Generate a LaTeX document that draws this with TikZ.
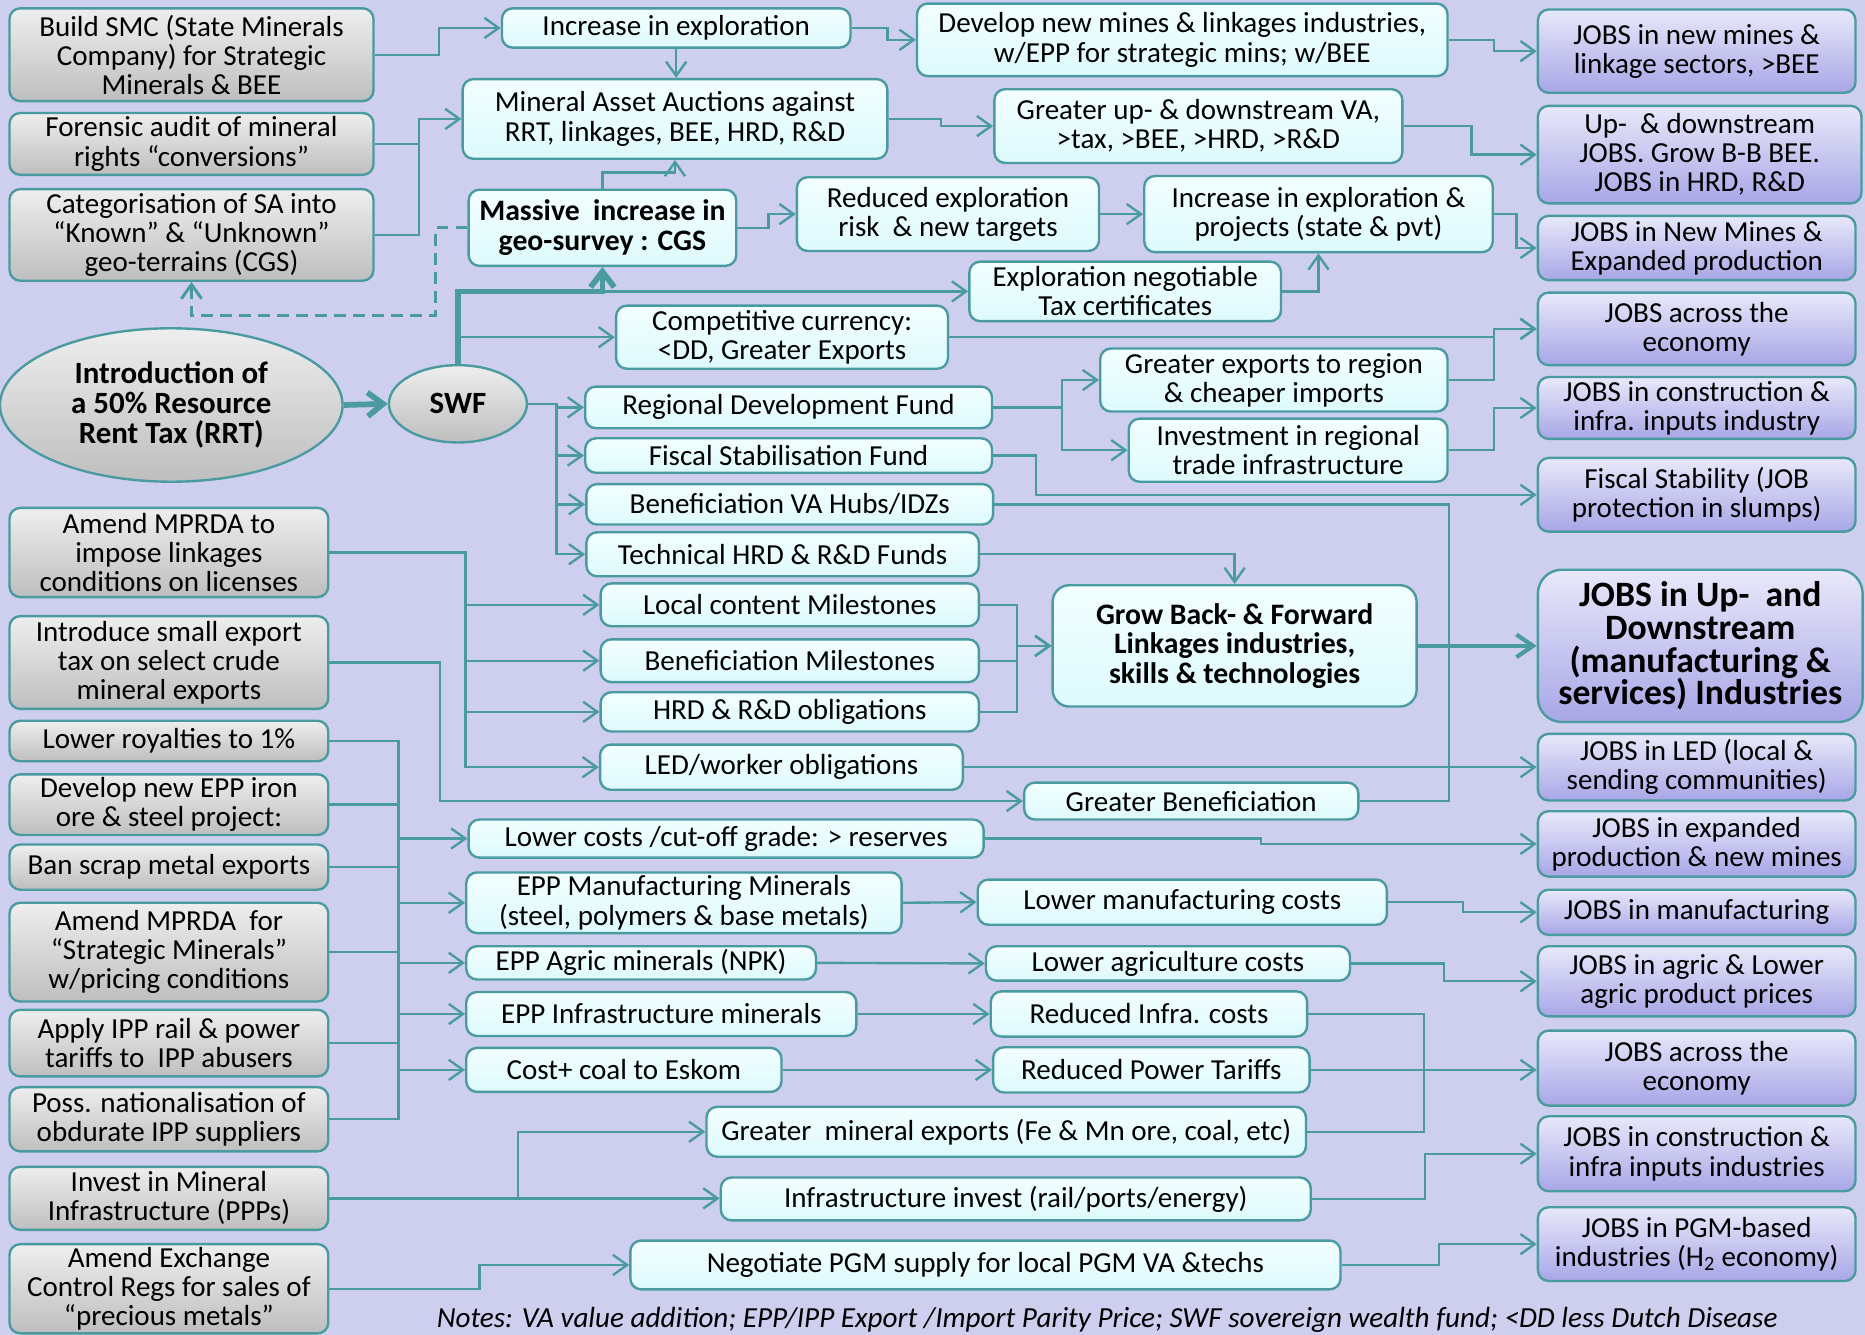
\documentclass[tikz,border=0pt]{standalone}
\usepackage{fontspec}
\setmainfont{Carlito}
\usepackage{tikz}
\usetikzlibrary{arrows.meta, shapes.geometric}
\definecolor{bglilac}{RGB}{206,206,238}
\definecolor{linkteal}{RGB}{74,155,160}
\definecolor{greytop}{RGB}{238,238,238}
\definecolor{greybot}{RGB}{190,190,190}
\definecolor{cyantop}{RGB}{242,254,255}
\definecolor{cyanbot}{RGB}{222,250,252}
\definecolor{jobtop}{RGB}{232,232,250}
\definecolor{jobbot}{RGB}{168,166,230}

\tikzset{
  plainbox/.style={draw=linkteal, line width=2pt, rounded corners=9pt, align=center,
    inner sep=0pt, font=\fontsize{24.4}{24.5}\selectfont},
  boxsize/.style 2 args={minimum width=#1pt, minimum height=#2pt},
  cause/.style={plainbox, top color=greytop, bottom color=greybot},
  effect/.style={plainbox, top color=cyantop, bottom color=cyanbot},
  jobs/.style={plainbox, top color=jobtop, bottom color=jobbot},
  boldtext/.style={font=\bfseries\fontsize{25}{25}\selectfont},
  oval/.style={ellipse, draw=linkteal, line width=2pt, top color=greytop, bottom color=greybot,
    align=center, inner sep=0pt, font=\bfseries\fontsize{26}{25}\selectfont},
  wire/.style={draw=linkteal, line width=2pt},
  link/.style={wire, ->},
  dashlink/.style={link, line width=2.5pt, dash pattern=on 10pt off 6pt},
  heavy/.style={draw=linkteal, line width=4.8pt, -{Straight Barb[length=13pt,width=20pt]}},
  mediumlink/.style={draw=linkteal, line width=3.5pt, -{Straight Barb[length=14pt,width=19pt]}},
}

\begin{document}
\begin{tikzpicture}[x=1pt, y=-1pt, >={Straight Barb[length=12pt,width=17pt]}]
  \fill[bglilac] (0,0) rectangle (1568,1122);
  \useasboundingbox (0,0) rectangle (1568,1122);

  % policy levers
  \node[cause, boxsize={306}{78}] (smc) at (161,46) {Build SMC (State Minerals\\Company) for Strategic\\Minerals \& BEE};
  \node[cause, boxsize={306}{52}] (audit) at (161,121) {Forensic audit of mineral\\rights “conversions”};
  \node[cause, boxsize={306}{77}] (categ) at (161,197.5) {Categorisation of SA into\\“Known” \& “Unknown”\\geo-terrains (CGS)};
  \node[oval, boxsize={288}{129}] (rrt) at (144,340.5) {Introduction of\\a 50\% Resource\\Rent Tax (RRT)};
  \node[oval, boxsize={116}{65}] (swf) at (385,339.5) {SWF};
  \node[cause, boxsize={268}{75}] (mprdaA) at (142,464.5) {Amend MPRDA to\\impose linkages\\conditions on licenses};
  \node[cause, boxsize={268}{78}] (exptax) at (142,557) {Introduce small export\\tax on select crude\\mineral exports};
  \node[cause, boxsize={268}{34}] (royal) at (142,623) {Lower royalties to 1\%};
  \node[cause, boxsize={268}{51}] (eppiron) at (142,676.5) {Develop new EPP iron\\ore \& steel project:};
  \node[cause, boxsize={268}{38}] (scrap) at (142,729) {Ban scrap metal exports};
  \node[cause, boxsize={268}{83}] (mprdaB) at (142,800.5) {Amend MPRDA\ \ for\\“Strategic Minerals”\\w/pricing conditions};
  \node[cause, boxsize={268}{56}] (ippuse) at (142,877) {Apply IPP rail \& power\\tariffs to\ \ IPP abusers};
  \node[cause, boxsize={268}{54}] (nation) at (142,941) {Poss. nationalisation of\\obdurate IPP suppliers};
  \node[cause, boxsize={268}{53}] (invmin) at (142,1007.5) {Invest in Mineral\\Infrastructure (PPPs)};
  \node[cause, boxsize={268}{75}] (exch) at (142,1083.5) {Amend Exchange\\Control Regs for sales of\\“precious metals”};

  % intermediate effects
  \node[effect, boxsize={293}{33}] (incexp) at (568.5,23.5) {Increase in exploration};
  \node[effect, boxsize={446}{61}] (newmine) at (994,33.5) {Develop new mines \& linkages industries,\\w/EPP for strategic mins; w/BEE};
  \node[effect, boxsize={357}{67}] (auction) at (567.5,100) {Mineral Asset Auctions against\\RRT, linkages, BEE, HRD, R\&D};
  \node[effect, boxsize={343}{62}] (updown) at (1007.5,106) {Greater up- \& downstream VA,\\>tax, >BEE, >HRD, >R\&D};
  \node[effect, boldtext, boxsize={225}{64}] (survey) at (506.5,191.5) {Massive\ \ increase in\\geo-survey : CGS};
  \node[effect, boxsize={254}{62}] (risk) at (797,180) {Reduced exploration\\risk\ \ \& new targets};
  \node[effect, boxsize={293}{64}] (incproj) at (1108.5,180) {Increase in exploration \&\\projects (state \& pvt)};
  \node[effect, boxsize={262}{50}] (taxcert) at (946,245) {Exploration negotiable\\Tax certificates};
  \node[effect, boxsize={279}{53}] (currency) at (657.5,283.5) {Competitive currency:\\<DD, Greater Exports};
  \node[effect, boxsize={292}{53}] (regexp) at (1071,319.5) {Greater exports to region\\\& cheaper imports};
  \node[effect, boxsize={268}{53}] (reginv) at (1083,378.5) {Investment in regional\\trade infrastructure};
  \node[effect, boxsize={342}{35}] (rdf) at (663,342.5) {Regional Development Fund};
  \node[effect, boxsize={342}{29}] (fsf) at (663,383) {Fiscal Stabilisation Fund};
  \node[effect, boxsize={342}{34}] (vahub) at (664,424) {Beneficiation VA Hubs/IDZs};
  \node[effect, boxsize={330}{37}] (hrdfund) at (658,466) {Technical HRD \& R\&D Funds};
  \node[effect, boxsize={318}{36}] (localc) at (664,508.5) {Local content Milestones};
  \node[effect, boxsize={318}{36}] (benmile) at (664,555.5) {Beneficiation Milestones};
  \node[effect, boxsize={318}{33}] (hrdobl) at (664,598.5) {HRD \& R\&D obligations};
  \node[effect, boxsize={305}{38}] (ledobl) at (657,645) {LED/worker obligations};
  \node[effect, boldtext, boxsize={306}{102}, rounded corners=14pt] (linkage) at (1038,543) {Grow Back- \& Forward\\Linkages industries,\\skills \& technologies};
  \node[effect, boxsize={281}{31}] (gbenef) at (1001.5,673.5) {Greater Beneficiation};
  \node[effect, boxsize={433}{32}] (lowcost) at (610.5,705) {Lower costs /cut-off grade: > reserves};
  \node[effect, boxsize={366}{51}] (eppman) at (575,759) {EPP Manufacturing Minerals\\(steel, polymers \& base metals)};
  \node[effect, boxsize={344}{38}] (lowman) at (994,758.5) {Lower manufacturing costs};
  \node[effect, boxsize={294}{28}] (eppagr) at (539,809.5) {EPP Agric minerals (NPK)};
  \node[effect, boxsize={306}{29}] (lowagr) at (982,810) {Lower agriculture costs};
  \node[effect, boxsize={328}{37}] (eppinf) at (556,852.5) {EPP Infrastructure minerals};
  \node[effect, boxsize={266}{38}] (redinf) at (966,852.5) {Reduced Infra. costs};
  \node[effect, boxsize={265}{37}] (coal) at (524.5,899.5) {Cost+ coal to Eskom};
  \node[effect, boxsize={266}{38}] (redpow) at (968,899.5) {Reduced Power Tariffs};
  \node[effect, boxsize={504}{42}] (minexp) at (846,951.5) {Greater\ \ mineral exports (Fe \& Mn ore, coal, etc)};
  \node[effect, boxsize={496}{36}] (infinv) at (854,1008) {Infrastructure invest (rail/ports/energy)};
  \node[effect, boxsize={597}{41}] (pgm) at (828.5,1063.5) {Negotiate PGM supply for local PGM VA \&techs};

  % jobs outcomes
  \node[jobs, boxsize={267}{70}] (jmines) at (1426.5,43) {JOBS in new mines \&\\linkage sectors, >BEE};
  \node[jobs, boxsize={272}{82}] (jupdown) at (1429,130) {Up-\ \ \& downstream\\JOBS. Grow B-B BEE.\\JOBS in HRD, R\&D};
  \node[jobs, boxsize={267}{54}] (jnewmine) at (1426.5,208.5) {JOBS in New Mines \&\\Expanded production};
  \node[jobs, boxsize={267}{61}] (jecon) at (1426.5,276.5) {JOBS across the\\economy};
  \node[jobs, boxsize={267}{52}] (jconstr) at (1426.5,343) {JOBS in construction \&\\infra. inputs industry};
  \node[jobs, boxsize={267}{62}] (jfiscal) at (1426.5,416) {Fiscal Stability (JOB\\protection in slumps)};
  \node[jobs, boxsize={273}{128}, rounded corners=20pt, font=\bfseries\fontsize{30}{27.5}\selectfont] (jlinkage) at (1429.5,543) {JOBS in Up-\ \ and\\Downstream\\(manufacturing \&\\services) Industries};
  \node[jobs, boxsize={267}{56}] (jled) at (1426.5,645) {JOBS in LED (local \&\\sending communities)};
  \node[jobs, boxsize={267}{55}] (jexpand) at (1426.5,709.5) {JOBS in expanded\\production \& new mines};
  \node[jobs, boxsize={267}{38}] (jmanuf) at (1426.5,767) {JOBS in manufacturing};
  \node[jobs, boxsize={267}{59}] (jagric) at (1426.5,825) {JOBS in agric \& Lower\\agric product prices};
  \node[jobs, boxsize={267}{63}] (jeconB) at (1426.5,898) {JOBS across the\\economy};
  \node[jobs, boxsize={267}{63}] (jconstrB) at (1426.5,970) {JOBS in construction \&\\infra inputs industries};
  \node[jobs, boxsize={267}{62}] (jpgm) at (1426.5,1046) {JOBS in PGM-based\\industries (H\textsubscript{2} economy)};

  \node[anchor=base west, inner sep=0pt, font=\itshape\fontsize{24.5}{25}\selectfont] (notes) at (367,1116)
    {Notes: VA value addition; EPP/IPP Export /Import Parity Price; SWF sovereign wealth fund; <DD less Dutch Disease};

  % exploration and auctions
  \draw[link] (smc.east) -- ++(54,0) |- (incexp.west);
  \draw[wire] (audit.east) -- ++(37.5,0);
  \draw[link] (categ.east) -- ++(37.5,0) |- (auction.west);
  \draw[link] (incexp.south) -- (incexp.south |- auction.north);
  \draw[link] (incexp.east) -- ++(30,0) |- (newmine.west);
  \draw[link] (newmine.east) -- ++(38,0) |- (jmines.west);
  \draw[link] (auction.east) -- ++(44,0) |- (updown.west);
  \draw[link] (updown.east) -- ++(57,0) |- (jupdown.west);
  \draw[link] (survey.north) -- ++(0,-13.5) -| (auction.south);
  \draw[link] (survey.east) -- ++(26,0) |- (risk.west);
  \draw[link] (risk.east) -- (incproj.west);
  \draw[link] (incproj.east) -- ++(19,0) |- (jnewmine.west);
  \draw[link] (taxcert.east) -| (incproj.south);
  \draw[dashlink] (survey.west) -- ++(-26.5,0) -- ++(0,74) -| (categ.south);

  % from the RRT through the SWF
  \draw[heavy] (rrt.east) -- (swf.west);
  \draw[heavy] (swf.north) -- (swf.north |- taxcert.west) -| (survey.south);
  \draw[link] (survey.south |- taxcert.west) -- (taxcert.west);
  \draw[link] (swf.north |- currency.west) -- (currency.west);
  \draw[link] (swf.east) -- ++(24,0) |- (rdf.west);
  \draw[link] (swf.east) ++(24,0) |- (fsf.west);
  \draw[link] (swf.east) ++(24,0) |- (vahub.west);
  \draw[link] (swf.east) ++(24,0) |- (hrdfund.west);
  \draw[link] (currency.east) -- ++(458,0) |- (jecon.west);
  \draw[link] (regexp.east) -- ++(38,0) |- (jecon.west);
  \draw[link] (rdf.east) -- ++(58,0) |- (regexp.west);
  \draw[link] (rdf.east) ++(58,0) |- (reginv.west);
  \draw[link] (reginv.east) -- ++(38,0) |- (jconstr.west);
  \draw[link] (fsf.east) -- ++(36,0) |- (jfiscal.west);
  \draw[wire] (vahub.east) -- (vahub.east -| reginv.east) |- (gbenef.east);
  \draw[link] (hrdfund.east) -| (linkage.north);

  % linkage conditions
  \draw[link] (mprdaA.east) -- ++(114.5,0) |- (localc.west);
  \draw[link] (mprdaA.east) ++(114.5,0) |- (benmile.west);
  \draw[link] (mprdaA.east) ++(114.5,0) |- (hrdobl.west);
  \draw[link] (mprdaA.east) ++(114.5,0) |- (ledobl.west);
  \draw[link] (localc.east) -- ++(31,0) |- (linkage.west);
  \draw[link] (benmile.east) -- ++(31,0) |- (linkage.west);
  \draw[link] (hrdobl.east) -- ++(31,0) |- (linkage.west);
  \draw[mediumlink] (linkage.east) -- (jlinkage.west);
  \draw[link] (ledobl.east) -- (jled.west);
  \draw[link] (exptax.east) -- ++(93,0) |- (gbenef.west);

  % parity prices
  \coordinate (pricebus) at ([xshift=58pt]royal.east);
  \draw[wire] (royal.east) -- (pricebus) -- (pricebus |- nation.east) -- (nation.east);
  \draw[wire] (eppiron.east) -- (eppiron.east -| pricebus);
  \draw[wire] (scrap.east) -- (scrap.east -| pricebus);
  \draw[wire] (mprdaB.east) -- (mprdaB.east -| pricebus);
  \draw[wire] (ippuse.east) -- (ippuse.east -| pricebus);
  \draw[link] (pricebus |- lowcost.west) -- (lowcost.west);
  \draw[link] (pricebus |- eppman.west) -- (eppman.west);
  \draw[link] (pricebus |- eppagr.west) -- (eppagr.west);
  \draw[link] (pricebus |- eppinf.west) -- (eppinf.west);
  \draw[link] (pricebus |- coal.west) -- (coal.west);
  \draw[link] (lowcost.east) -- ++(232,0) |- (jexpand.west);
  \draw[link] (eppman.east) -- (lowman.west);
  \draw[link] (lowman.east) -- ++(63,0) |- (jmanuf.west);
  \draw[link] (eppagr.east) -- (lowagr.west);
  \draw[link] (lowagr.east) -- ++(78,0) |- (jagric.west);
  \draw[link] (eppinf.east) -- (redinf.west);
  \draw[link] (coal.east) -- (redpow.west);
  \draw[wire] (redinf.east) -- ++(97,0) |- (minexp.east);
  \draw[link] (redpow.east) -- (redpow.east -| jeconB.west);

  % infrastructure and PGMs
  \draw[link] (invmin.east) -- ++(158.5,0) |- (minexp.west);
  \draw[link] (invmin.east) -- (invmin.east -| infinv.west);
  \draw[link] (infinv.east) -- ++(95,0) |- (jconstrB.west);
  \draw[link] (exch.east) -- ++(126,0) |- (pgm.west);
  \draw[link] (pgm.east) -- ++(82,0) |- (jpgm.west);
\end{tikzpicture}
\end{document}
